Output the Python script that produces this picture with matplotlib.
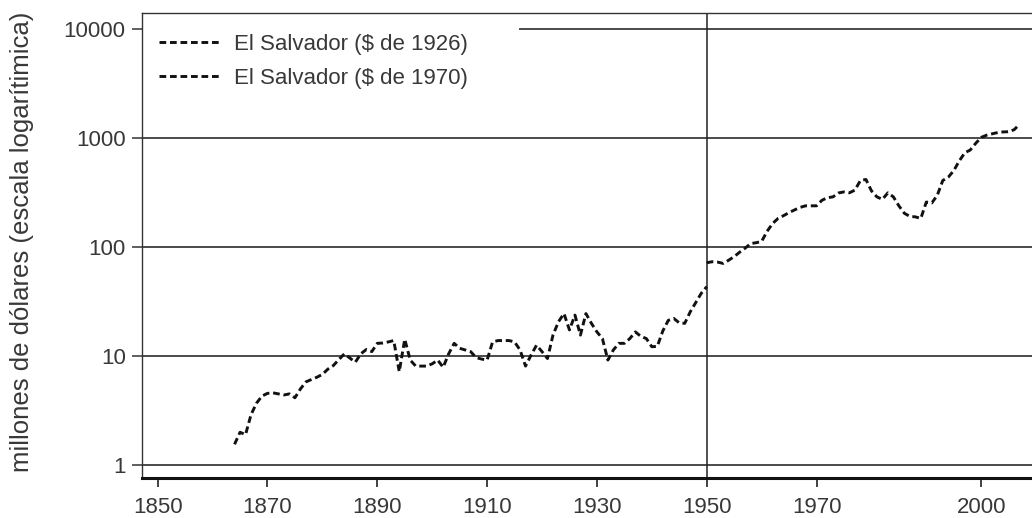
import matplotlib
matplotlib.use("Agg")
import matplotlib.pyplot as plt

plt.rcParams['font.family'] = ['Liberation Sans', 'DejaVu Sans']

# PIB de El Salvador, millones de dólares
years_1926 = list(range(1864, 1951))
gdp_1926 = [
    1.55, 2.0, 1.9, 2.9, 3.7, 4.3, 4.55, 4.6, 4.5, 4.4,      # 1864-1873
    4.5, 4.15, 5.0, 5.8, 6.1, 6.4, 6.8, 7.6, 8.2, 9.3,       # 1874-1883
    10.5, 9.6, 8.8, 10.5, 11.5, 11.0, 13.1, 13.2, 13.5, 13.9,  # 1884-1893
    7.2, 14.3, 9.2, 8.1, 8.1, 8.1, 8.5, 9.2, 7.9, 10.5,      # 1894-1903
    13.1, 11.8, 11.4, 11.0, 9.7, 9.4, 9.2, 13.5, 13.9, 13.9,  # 1904-1913
    13.9, 13.5, 11.4, 8.1, 10.2, 12.6, 11.0, 9.5, 15.6, 20.7,  # 1914-1923
    24.6, 17.4, 23.8, 15.6, 24.6, 20.0, 16.7, 14.5, 9.2, 11.4,  # 1924-1933
    13.1, 13.1, 14.5, 16.7, 15.2, 14.5, 12.2, 12.3, 17.0, 21.3,  # 1934-1943
    22.2, 20.2, 20.0, 25.5, 31.0, 37.7, 43.4,                # 1944-1950
]

years_1970 = list(range(1950, 2008))
gdp_1970 = [
    72, 73.6, 73, 71, 76, 82, 90, 98, 108, 110,               # 1950-1959
    113, 140, 165, 184, 195, 208, 220, 232, 240, 240,         # 1960-1969
    240, 270, 285, 290, 315, 322, 316, 335, 410, 419,         # 1970-1979
    330, 290, 275, 316, 290, 240, 205, 192, 190, 184,         # 1980-1989
    260, 255, 300, 410, 440, 505, 620, 736, 781, 900,         # 1990-1999
    1020, 1070, 1100, 1130, 1145, 1150, 1200, 1350,           # 2000-2007
]

x_ticks = [1850, 1870, 1890, 1910, 1930, 1950, 1970, 2000]
y_ticks = [1, 10, 100, 1000, 10000]
y_tick_labels = ["1", "10", "100", "1000", "10000"]
series_labels = ["El Salvador ($ de 1926)", "El Salvador ($ de 1970)"]
y_title = "millones de dólares (escala logarítimica)"

text_color = "#383838"
grid_color = "#4a4a4a"

fig = plt.figure(figsize=(10.32, 5.18), dpi=100)
ax = fig.add_axes([0.1379, 0.0772, 0.8621, 0.8977])
ax.set_yscale("log")
ax.set_xlim(1847.2, 2009.25)
ax.set_ylim(0.76, 14150)

# horizontal reference lines at each decade
for yv in y_ticks[:-1]:
    ax.axhline(yv, color=grid_color, lw=1.4, zorder=1)
ax.axhline(y_ticks[-1], xmin=0.4245, color=grid_color, lw=1.4, zorder=1)
ax.axvline(1950, color="#222222", lw=1.1, zorder=1)

dash = (0, (2.3, 1.3))
ax.plot(years_1926, gdp_1926, color="#111111", lw=2.1, linestyle=dash,
        label=series_labels[0], zorder=3)
ax.plot(years_1970, gdp_1970, color="#111111", lw=2.1, linestyle=dash,
        label=series_labels[1], zorder=3)

ax.set_xticks(x_ticks)
ax.set_xticklabels([str(v) for v in x_ticks])
ax.set_yticks(y_ticks)
ax.set_yticklabels(y_tick_labels)
ax.yaxis.set_minor_locator(matplotlib.ticker.NullLocator())
ax.tick_params(axis="both", labelsize=16, labelcolor=text_color, color="#333333")
ax.tick_params(axis="x", direction="out", length=6.5, width=1.3, pad=7)
ax.tick_params(axis="y", direction="out", length=7, width=1.1, pad=5)

ax.spines["right"].set_visible(False)
ax.spines["left"].set_color("#333333")
ax.spines["left"].set_linewidth(1.0)
ax.spines["top"].set_color("#333333")
ax.spines["top"].set_linewidth(1.0)
ax.spines["bottom"].set_color("#111111")
ax.spines["bottom"].set_linewidth(2.2)

leg = ax.legend(loc="upper left", bbox_to_anchor=(0.019, 0.955), frameon=False,
                fontsize=16, handlelength=2.7, handletextpad=0.68,
                labelspacing=0.58, borderpad=0, borderaxespad=0)
for t in leg.get_texts():
    t.set_color(text_color)

fig.text(22 / 1032, 1 - 242 / 518, y_title, rotation=90, ha="center", va="center",
         fontsize=18.5, color=text_color)

fig.savefig("out.png", dpi=100)
